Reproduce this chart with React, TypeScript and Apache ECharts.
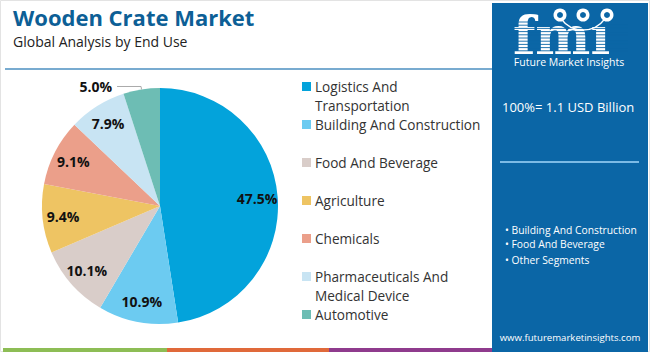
import React, { useEffect, useRef } from "react";
import * as echarts from "echarts";

const categories = [
  "Logistics And Transportation",
  "Building And Construction",
  "Food And Beverage",
  "Agriculture",
  "Chemicals",
  "Pharmaceuticals And Medical Device",
  "Automotive",
];
const legendLabels = [
  "Logistics And\nTransportation",
  "Building And Construction",
  "Food And Beverage",
  "Agriculture",
  "Chemicals",
  "Pharmaceuticals And\nMedical Device",
  "Automotive",
];
const shares = [47.5, 10.9, 10.1, 9.4, 9.1, 7.9, 5.0];
const colors = ["#03a3db", "#6ccbf1", "#d9cdc9", "#eec463", "#eb9f8a", "#c8e4f3", "#6dbdb4"];
const title = "Wooden Crate Market";
const subtitle = "Global Analysis by End Use";
const totalText = "100%= 1.1 USD Billion";
const panelBullets = ["Building And Construction", "Food And Beverage", "Other Segments"];
const siteText = "www.futuremarketinsights.com";

const FONT = "'Open Sans', 'Noto Sans', sans-serif";
const PANEL = "#0b66a6";

export default function App() {
  const ref = useRef<HTMLDivElement>(null);
  useEffect(() => {
    if (!ref.current) return;
    const chart = echarts.init(ref.current, undefined, { renderer: "svg" });
    const cx = 160, cy = 206, R = 118;

    const graphic: any[] = [];
    graphic.push({ type: "rect", shape: { x: 0.5, y: 0.5, width: 649, height: 351 }, style: { fill: "none", stroke: "#e3e3e3", lineWidth: 1 }, z: 0 });
    // title
    graphic.push({ type: "text", x: 13, y: 17, style: { text: title, fill: "#0d5f96", font: `bold 22px ${FONT}`, textVerticalAlign: "middle" } });
    graphic.push({ type: "text", x: 13, y: 41, style: { text: subtitle, fill: "#222", font: `14px ${FONT}`, textVerticalAlign: "middle" } });
    graphic.push({ type: "line", shape: { x1: 5, y1: 69, x2: 492, y2: 69 }, style: { stroke: "#4b8fc0", lineWidth: 1.5 } });
    // bottom color bars
    graphic.push({ type: "rect", shape: { x: 3, y: 348, width: 164, height: 4 }, style: { fill: "#8dbd55" } });
    graphic.push({ type: "rect", shape: { x: 167, y: 348, width: 162, height: 4 }, style: { fill: "#e0693a" } });
    graphic.push({ type: "rect", shape: { x: 329, y: 348, width: 163, height: 4 }, style: { fill: "#8f3b8d" } });
    // panel
    graphic.push({ type: "rect", shape: { x: 492, y: 3, width: 156, height: 349 }, style: { fill: PANEL } });
    graphic.push({ type: "text", x: 513, y: 61, style: { text: "fmı", fill: "#fff", font: `bold 52px 'DejaVu Serif', serif`, textVerticalAlign: "bottom" } });
    for (let y = 22; y <= 54; y += 3.2) {
      graphic.push({ type: "line", shape: { x1: 510, y1: y, x2: 628, y2: y }, style: { stroke: PANEL, lineWidth: 0.9 } });
    }
    [560, 583, 607].forEach((x) => {
      graphic.push({ type: "circle", shape: { cx: x, cy: 15, r: 6.5 }, style: { fill: "#fff" } });
      graphic.push({ type: "circle", shape: { cx: x, cy: 15, r: 3 }, style: { fill: PANEL } });
    });
    graphic.push({ type: "arc", shape: { cx: 583, cy: 3, r: 27, startAngle: Math.PI * 0.2, endAngle: Math.PI * 0.8 }, style: { stroke: "#fff", lineWidth: 1.5, fill: "none" } });
    graphic.push({ type: "text", x: 569, y: 62, style: { text: "Future Market Insights", fill: "#fff", font: `10.5px ${FONT}`, textAlign: "center", textVerticalAlign: "middle" } });
    graphic.push({ type: "text", x: 502, y: 107, style: { text: totalText, fill: "#fff", font: `13px ${FONT}`, textVerticalAlign: "middle" } });
    graphic.push({ type: "line", shape: { x1: 500, y1: 162, x2: 639, y2: 162 }, style: { stroke: "#7cbbe6", lineWidth: 2 } });
    const by = [230, 244, 260];
    panelBullets.forEach((b, i) => {
      graphic.push({ type: "text", x: 505, y: by[i], style: { text: "• " + b, fill: "#fff", font: `10.3px ${FONT}`, textVerticalAlign: "middle" } });
    });
    graphic.push({ type: "text", x: 570, y: 337, style: { text: siteText, fill: "#fff", font: `9.6px ${FONT}`, textAlign: "center", textVerticalAlign: "middle" } });
    // legend
    legendLabels.forEach((lab, i) => {
      const y = 86 + 38 * i;
      graphic.push({ type: "rect", shape: { x: 302, y: y - 4, width: 9, height: 9 }, style: { fill: colors[i] } });
      graphic.push({ type: "text", x: 315, y: y - 9.5, style: { text: lab, fill: "#333", font: `13.6px ${FONT}`, lineHeight: 19, textVerticalAlign: "top" } });
    });

    const baseData = categories.map((c, i) => ({ name: c, value: shares[i], itemStyle: { color: colors[i] } }));
    const labelData = categories.map((c, i) => {
      const d: any = { name: c, value: shares[i] };
      if (i === categories.length - 1) {
        d.label = { position: "outside", color: "#111", fontWeight: "bold", fontSize: 14, distance: 4 };
        d.labelLine = { show: true, length: 3, length2: 24, lineStyle: { color: "#aaa", width: 1 } };
      }
      return d;
    });

    chart.setOption({
      animation: false,
      graphic,
      series: [
        {
          type: "pie",
          center: [cx, cy],
          radius: R,
          startAngle: 90,
          clockwise: true,
          silent: true,
          label: { show: false },
          labelLine: { show: false },
          itemStyle: { borderWidth: 0 },
          data: baseData,
          z: 2,
        },
        {
          type: "pie",
          center: [cx, cy],
          radius: [R * 0.6, R],
          startAngle: 90,
          clockwise: true,
          silent: true,
          avoidLabelOverlap: false,
          itemStyle: { color: "rgba(0,0,0,0)", borderWidth: 0 },
          label: {
            show: true,
            position: "inside",
            color: "#111",
            fontWeight: "bold",
            fontSize: 14,
            fontFamily: FONT,
            formatter: (p: any) => p.value.toFixed(1) + "%",
          },
          labelLine: { show: false },
          data: labelData,
          z: 3,
        },
      ],
    });
    return () => chart.dispose();
  }, []);
  return <div ref={ref} style={{ position: "absolute", left: 0, top: 0, width: 650, height: 352 }} />;
}
